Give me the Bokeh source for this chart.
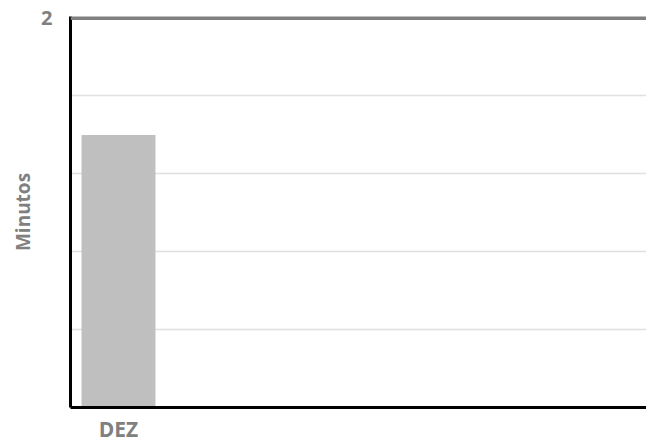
from bokeh.plotting import figure
from bokeh.models import Range1d, FixedTicker, Span
from bokeh.embed import file_html
from bokeh.resources import INLINE

categories = ["DEZ"]
values = [1.4]
n_slots = 6
y_grid_ticks = [0.4, 0.8, 1.2, 1.6]
y_label_ticks = [2]
y_max = 2

FONT = "Open Sans"
GRAY = "#808080"

xs = [i + 0.5 for i in range(len(categories))]

p = figure(frame_width=576, frame_height=391, output_backend="svg", toolbar_location=None,
           x_range=Range1d(0, n_slots), y_range=Range1d(0, y_max * 1.004),
           min_border_left=70, min_border_right=0, min_border_top=16, min_border_bottom=0)
p.outline_line_color = None
p.background_fill_color = "white"

p.vbar(x=xs, top=values, width=0.77, bottom=0, fill_color="#bfbfbf", line_color=None)

p.add_layout(Span(location=y_max, dimension="width", line_color=GRAY, line_width=4))

# axes
p.yaxis.ticker = FixedTicker(ticks=y_label_ticks)
p.yaxis.axis_line_color = "black"
p.yaxis.axis_line_width = 3
p.yaxis.major_tick_line_color = None
p.yaxis.minor_tick_line_color = None
p.yaxis.major_label_text_font = FONT
p.yaxis.major_label_text_font_style = "bold"
p.yaxis.major_label_text_font_size = "20px"
p.yaxis.major_label_text_color = GRAY
p.yaxis.major_label_standoff = 12
p.yaxis.axis_label = "Minutos"
p.yaxis.axis_label_text_font = FONT
p.yaxis.axis_label_text_font_style = "bold"
p.yaxis.axis_label_text_font_size = "19px"
p.yaxis.axis_label_text_color = GRAY
p.yaxis.axis_label_standoff = 2

p.xaxis.ticker = FixedTicker(ticks=xs)
p.xaxis.major_label_overrides = {x: c for x, c in zip(xs, categories)}
p.xaxis.axis_line_color = "black"
p.xaxis.axis_line_width = 3
p.xaxis.major_tick_line_color = None
p.xaxis.minor_tick_line_color = None
p.xaxis.major_label_text_font = FONT
p.xaxis.major_label_text_font_style = "bold"
p.xaxis.major_label_text_font_size = "21px"
p.xaxis.major_label_text_color = GRAY
p.xaxis.major_label_standoff = 1

p.xgrid.grid_line_color = None
p.ygrid.ticker = FixedTicker(ticks=y_grid_ticks)
p.ygrid.grid_line_color = "#e0e0e0"
p.ygrid.grid_line_width = 1.5

open("out.html", "w").write(file_html(p, INLINE))
